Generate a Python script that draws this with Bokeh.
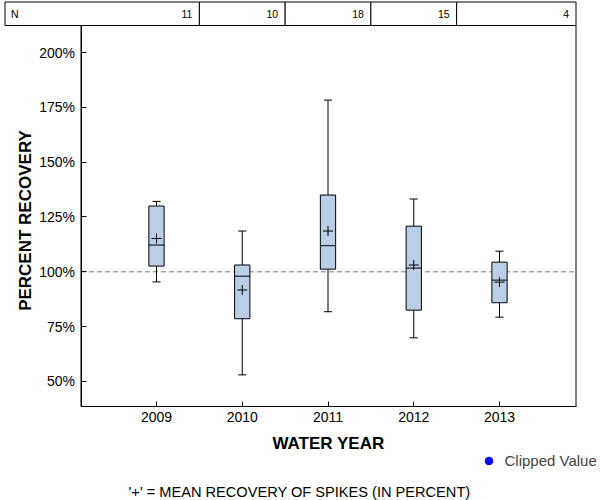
import math
import numpy as np
from bokeh.plotting import figure
from bokeh.models import (Range1d, FixedTicker, PrintfTickFormatter, ColumnDataSource,
                          Legend, LegendItem, Label, LinearAxis)
from bokeh.embed import file_html
from bokeh.resources import INLINE
from bokeh.core.properties import value

# ---------------- data ----------------
years = [2009, 2010, 2011, 2012, 2013]
n_counts = [11, 10, 18, 15, 4]
whisker_low = [95.4, 53.0, 81.8, 69.9, 79.3]
q1 = [102.6, 78.6, 101.2, 82.5, 85.9]
median = [112.2, 98.0, 111.9, 101.7, 96.2]
q3 = [130.0, 103.1, 135.0, 120.8, 104.4]
whisker_high = [132.1, 118.6, 178.3, 133.2, 109.4]
mean = [115.2, 91.7, 118.6, 103.1, 95.3]
clipped_year = np.array([np.nan])      # no clipped values in this data set
clipped_value = np.array([np.nan])
y_ticks = [50, 75, 100, 125, 150, 175, 200]
reference_level = 100

# ---------------- layout constants (pixels) ----------------
FONT = "Liberation Sans"
W, H = 600, 500
OX, OY = 0, 0                 # observed page offset
PPU, PPY = 85.75, 2.193       # px per year, px per percent
ANCHOR_X, ANCHOR_XPX = 2009, 156.0
ANCHOR_Y, ANCHOR_YPX = 100, 271.3
x_start = ANCHOR_X - (ANCHOR_XPX - OX) / PPU
x_end = x_start + W / PPU
y_start = ANCHOR_Y - (OY + H - ANCHOR_YPX) / PPY
y_end = y_start + H / PPY

def xdata(px):
    return ANCHOR_X + (px - ANCHOR_XPX) / PPU

def ydata(py):
    return ANCHOR_Y - (py - ANCHOR_YPX) / PPY

def sx(px):   # page px -> frame screen x
    return px - OX

def sy(py):   # page px -> frame screen y (from bottom)
    return OY + H - py

x_lo, x_hi = xdata(80.5), xdata(575.5)
y_lo, y_top = ydata(406.0), ydata(25.0)
table_top = min(ydata(1.5), y_end - 0.5 / PPY)
table_left = max(xdata(4.5), x_start + 0.5 / PPU)

BOX_W = 0.178
CAP_W = 0.095
BOX_FILL = "#BACFE7"

src = ColumnDataSource(dict(
    x=years, wlo=whisker_low, q1=q1, med=median, q3=q3, whi=whisker_high, mean=mean,
    cap_l=[y - CAP_W / 2 for y in years], cap_r=[y + CAP_W / 2 for y in years],
    box_l=[y - BOX_W / 2 for y in years], box_r=[y + BOX_W / 2 for y in years],
))

p = figure(width=W, height=H, x_range=Range1d(x_start, x_end), y_range=Range1d(y_start, y_end),
           output_backend="svg", toolbar_location=None, min_border=0,
           x_axis_location=None, y_axis_location=None)
p.min_border_left = p.min_border_right = p.min_border_top = p.min_border_bottom = 0
p.outline_line_color = None
p.grid.visible = False
p.background_fill_color = "white"
p.border_fill_color = "white"

# plot-area box
p.quad(left=[x_lo], right=[x_hi], bottom=[y_lo], top=[y_top], fill_alpha=0,
       line_color="black", line_width=1)
# 100 % reference line
p.segment(x0=[x_lo], y0=[reference_level], x1=[x_hi], y1=[reference_level],
          line_color="#808080", line_dash="5 3", line_width=1)

# whiskers
p.segment(x0="x", y0="wlo", x1="x", y1="q1", source=src, line_color="black", line_width=1)
p.segment(x0="x", y0="q3", x1="x", y1="whi", source=src, line_color="black", line_width=1)
p.segment(x0="cap_l", y0="wlo", x1="cap_r", y1="wlo", source=src, line_color="black", line_width=1)
p.segment(x0="cap_l", y0="whi", x1="cap_r", y1="whi", source=src, line_color="black", line_width=1)
# boxes
p.vbar(x="x", width=BOX_W, bottom="q1", top="q3", source=src, fill_color=BOX_FILL,
       line_color="black", line_width=1)
p.segment(x0="box_l", y0="med", x1="box_r", y1="med", source=src, line_color="black", line_width=1)
p.scatter(x="x", y="mean", source=src, marker="cross", size=10, line_color="black", line_width=1)

# clipped values (none here, but keeps the legend glyph)
r_clip = p.scatter(x=clipped_year, y=clipped_value, marker="circle", size=9,
                   fill_color="blue", line_color="blue")

# ---------------- N table ----------------
mids = [(a + b) / 2 for a, b in zip(years[:-1], years[1:])]
cell_left = [table_left] + mids
cell_right = mids + [x_hi]
p.quad(left=cell_left, right=cell_right, bottom=[y_top] * len(years), top=[table_top] * len(years),
       fill_color="white", line_color="black", line_width=1)
table_mid = (y_top + table_top) / 2
p.text(x=cell_right, y=[table_mid] * len(years), text=[str(n) for n in n_counts],
       x_offset=-7, text_align="right", text_baseline="middle",
       text_font=value(FONT), text_font_size="10.5px", text_color="black")
p.text(x=[table_left], y=[table_mid], text=["N"], x_offset=6, text_align="left",
       text_baseline="middle", text_font=value(FONT), text_font_size="10.5px",
       text_color="black")

# ---------------- axes ----------------
xaxis = LinearAxis(fixed_location=y_lo, bounds=(x_lo, x_hi), ticker=FixedTicker(ticks=years))
yaxis = LinearAxis(fixed_location=x_lo, bounds=(y_lo, y_top), ticker=FixedTicker(ticks=y_ticks),
                   formatter=PrintfTickFormatter(format="%d%%"))
for ax in (xaxis, yaxis):
    ax.axis_line_color = "black"
    ax.major_tick_in = 5
    ax.major_tick_out = 0
    ax.minor_tick_line_color = None
    ax.major_label_text_font = FONT
    ax.major_label_text_font_size = "14px"
    ax.major_label_text_color = "black"
xaxis.major_label_standoff = 5
yaxis.major_label_standoff = 6
p.add_layout(xaxis, "below")
p.add_layout(yaxis, "left")

# axis titles
p.add_layout(Label(x=sx(328), y=sy(443), x_units="screen", y_units="screen", text="WATER YEAR",
                   text_align="center", text_baseline="middle", text_font=FONT,
                   text_font_size="17px", text_font_style="bold", text_color="black"))
p.add_layout(Label(x=sx(25), y=sy(220), x_units="screen", y_units="screen",
                   text="PERCENT RECOVERY", angle=math.pi / 2,
                   text_align="center", text_baseline="middle", text_font=FONT,
                   text_font_size="17px", text_font_style="bold", text_color="black"))

# ---------------- legend + footnote ----------------
legend = Legend(items=[LegendItem(label="Clipped Value", renderers=[r_clip])],
                location=(sx(478.5), sy(470.5)))
legend.background_fill_alpha = 0
legend.border_line_alpha = 0
legend.padding = 0
legend.margin = 0
legend.spacing = 0
legend.glyph_width = 19
legend.glyph_height = 19
legend.label_standoff = 7
legend.label_height = 20
legend.label_text_font = FONT
legend.label_text_font_size = "15px"
p.add_layout(legend)

p.add_layout(Label(x=sx(299), y=sy(491), x_units="screen", y_units="screen",
                   text="'+' = MEAN RECOVERY OF SPIKES (IN PERCENT)",
                   text_align="center", text_baseline="middle", text_font=FONT,
                   text_font_size="14.6px", text_color="black"))

open("out.html", "w").write(file_html(p, INLINE))
